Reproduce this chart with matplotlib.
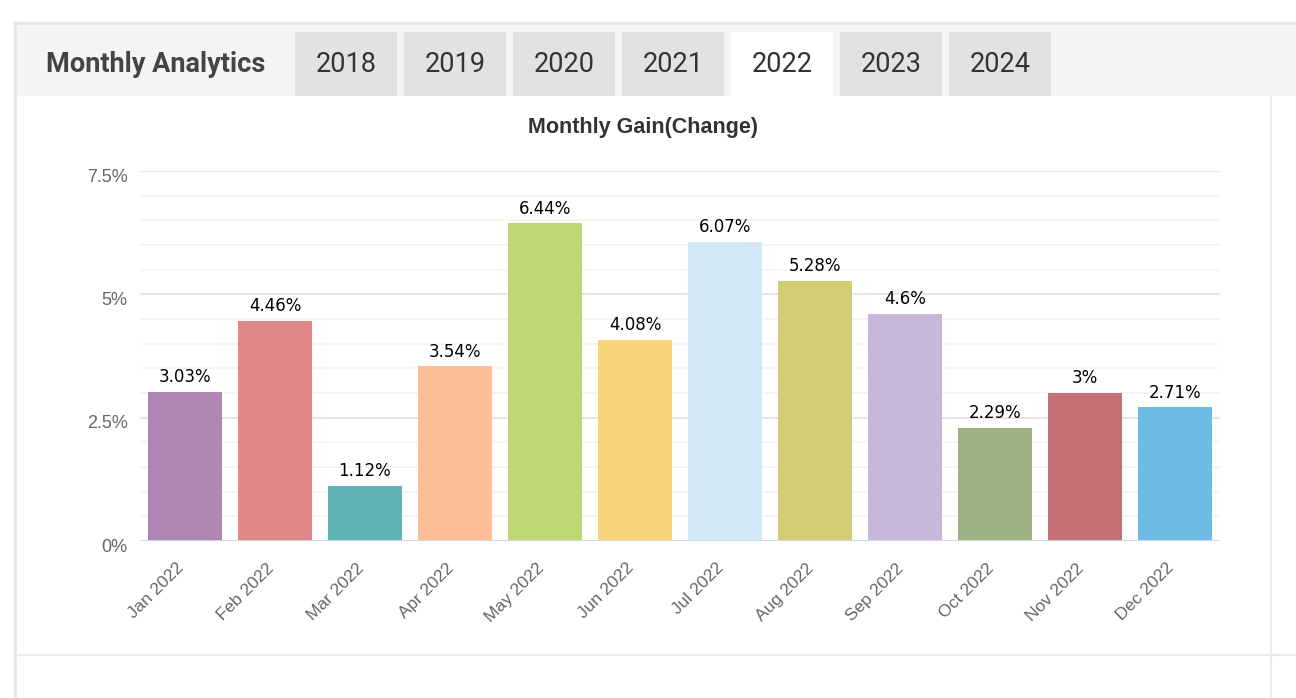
import matplotlib.pyplot as plt
from matplotlib.patches import Rectangle
from matplotlib.lines import Line2D
from matplotlib.transforms import ScaledTranslation
import numpy as np

# data
months = ['Jan 2022', 'Feb 2022', 'Mar 2022', 'Apr 2022', 'May 2022', 'Jun 2022',
          'Jul 2022', 'Aug 2022', 'Sep 2022', 'Oct 2022', 'Nov 2022', 'Dec 2022']
gains = [3.03, 4.46, 1.12, 3.54, 6.44, 4.08, 6.07, 5.28, 4.6, 2.29, 3.0, 2.71]
years = ['2018', '2019', '2020', '2021', '2022', '2023', '2024']
active_year = '2022'
y_ticks = [0, 2.5, 5, 7.5]

bar_colors = ['#b086b3', '#e08787', '#5fb3b4', '#ffbf96', '#bed673', '#f5d47b',
              '#d2e8f7', '#d2cc74', '#c7b8d9', '#9db482', '#c47074', '#6ebce3']

W, H = 1296, 698
fig = plt.figure(figsize=(W / 100, H / 100), dpi=100)

def px(x, y):
    # pixel (from top-left) -> figure fraction
    return x / W, 1 - y / H

def rect(x0, y0, x1, y1, color):
    fig.patches.append(Rectangle((x0 / W, 1 - y1 / H), (x1 - x0) / W, (y1 - y0) / H,
                                 transform=fig.transFigure, facecolor=color,
                                 edgecolor='none', zorder=0))

def line(x0, y0, x1, y1, color, lw=1.5):
    fig.lines.append(Line2D([x0 / W, x1 / W], [1 - y0 / H, 1 - y1 / H],
                            transform=fig.transFigure, color=color, lw=lw, zorder=1))

# card frame + header strip
rect(15, 23, W, 96, '#f5f5f5')
line(14, 22.5, W, 22.5, '#e6e6e6', 2)
line(14.5, 22, 14.5, H, '#e6e6e6', 2)
line(1271, 96, 1271, H, '#ececec', 1.5)
line(15, 655, W, 655, '#ececec', 1.5)

fig.text(*px(46, 65), 'Monthly Analytics', family='Roboto', fontweight='bold',
         fontsize=19.5, color='#444444', ha='left', va='center')

for i, yr in enumerate(years):
    x0 = 295 + i * 109
    rect(x0, 32, x0 + 102, 96, '#ffffff' if yr == active_year else '#e2e2e2')
    fig.text(*px(x0 + 51, 65), yr, family='Roboto', fontsize=19.5,
             color='#333333', ha='center', va='center')

fig.text(*px(643, 128), 'Monthly Gain(Change)', family='Liberation Sans',
         fontweight='bold', fontsize=15.5, color='#333333', ha='center', va='center')

# chart
ax = fig.add_axes([140 / W, (H - 541) / H, 1080 / W, 370 / H])
x = np.arange(len(months))
ax.bar(x, gains, width=0.822, color=bar_colors, zorder=3)
ax.set_xlim(-0.5, len(months) - 0.5)
ax.set_ylim(0, 7.5)

for g in np.arange(0.5, 7.5, 0.5):
    if g % 2.5:
        ax.axhline(g, color='#f3f3f3', lw=1.2, zorder=1)
for g in y_ticks[1:]:
    ax.axhline(g, color='#e6e6e6', lw=1.5, zorder=1)
ax.axhline(0, color='#ccd6eb', lw=2, zorder=4)

for xi, v in zip(x, gains):
    ax.annotate(f'{v:g}%', (xi, v), xytext=(0, 7), textcoords='offset points',
                ha='center', va='baseline', family='DejaVu Sans', fontsize=12,
                color='#000000')

for s in ax.spines.values():
    s.set_visible(False)
ax.set_yticks(y_ticks)
ax.set_yticklabels([f'{t:g}%' for t in y_ticks], family='Liberation Sans',
                   fontsize=13, color='#666666')
ax.set_xticks(x)
ax.set_xticklabels(months, rotation=45, ha='right', rotation_mode='anchor',
                   family='Liberation Sans', fontsize=12.5, color='#666666')
ax.tick_params(axis='y', length=0, pad=9)
ax.tick_params(axis='x', length=0, pad=14)

# nudge labels like the original
for lab in ax.get_yticklabels():
    lab.set_transform(lab.get_transform() + ScaledTranslation(0, -4 / 100, fig.dpi_scale_trans))
for lab in ax.get_xticklabels():
    lab.set_transform(lab.get_transform() + ScaledTranslation(-9 / 100, 0, fig.dpi_scale_trans))

fig.savefig('out.png', dpi=100)
